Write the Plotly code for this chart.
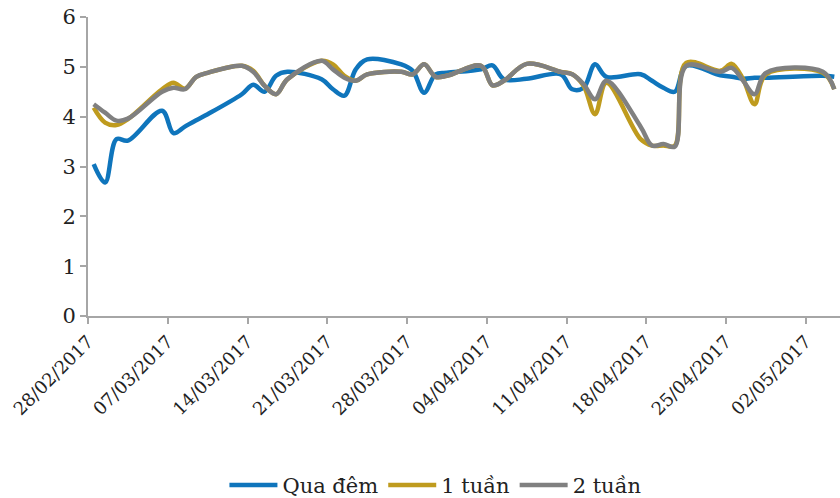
import pandas as pd
import plotly.graph_objects as go

# Trading days (interbank market), VND rates in %/year
dates = [
    "2017-02-28", "2017-03-01", "2017-03-02", "2017-03-03",
    "2017-03-06", "2017-03-07", "2017-03-08", "2017-03-09", "2017-03-10",
    "2017-03-13", "2017-03-14", "2017-03-15", "2017-03-16", "2017-03-17",
    "2017-03-20", "2017-03-21", "2017-03-22", "2017-03-23", "2017-03-24",
    "2017-03-27", "2017-03-28", "2017-03-29", "2017-03-30", "2017-03-31",
    "2017-04-03", "2017-04-04", "2017-04-05", "2017-04-07",
    "2017-04-10", "2017-04-11", "2017-04-12", "2017-04-13", "2017-04-14",
    "2017-04-17", "2017-04-18", "2017-04-19", "2017-04-20", "2017-04-21",
    "2017-04-24", "2017-04-25", "2017-04-26", "2017-04-27", "2017-04-28",
    "2017-05-03", "2017-05-04",
]

qua_dem = [
    3.05, 2.68, 3.55, 3.52,
    4.12, 3.67, 3.80, 3.93, 4.05,
    4.45, 4.64, 4.50, 4.82, 4.90,
    4.75, 4.55, 4.42, 4.95, 5.15,
    5.05, 4.92, 4.48, 4.85, 4.88,
    4.95, 5.03, 4.75, 4.76,
    4.85, 4.55, 4.58, 5.05, 4.80,
    4.85, 4.72, 4.58, 4.50, 5.02,
    4.83, 4.80, 4.76, 4.78, 4.78,
    4.82, 4.80,
]

mot_tuan = [
    4.18, 3.88, 3.83, 3.95,
    4.55, 4.68, 4.56, 4.80, 4.88,
    5.02, 4.92, 4.62, 4.45, 4.75,
    5.12, 5.05, 4.82, 4.72, 4.85,
    4.90, 4.85, 5.05, 4.80, 4.82,
    5.02, 4.63, 4.72, 5.06,
    4.90, 4.85, 4.62, 4.05, 4.68,
    3.55, 3.42, 3.42, 3.42, 5.08,
    4.92, 5.06, 4.75, 4.25, 4.85,
    4.88, 4.55,
]

hai_tuan = [
    4.25, 4.08, 3.92, 3.96,
    4.50, 4.58, 4.55, 4.80, 4.88,
    5.02, 4.90, 4.62, 4.45, 4.75,
    5.12, 4.95, 4.78, 4.72, 4.85,
    4.90, 4.85, 5.05, 4.80, 4.82,
    5.02, 4.63, 4.72, 5.06,
    4.90, 4.85, 4.65, 4.35, 4.72,
    3.80, 3.42, 3.45, 3.40, 5.02,
    4.90, 4.98, 4.72, 4.45, 4.88,
    4.90, 4.55,
]

tick_dates = ["2017-02-28", "2017-03-07", "2017-03-14", "2017-03-21", "2017-03-28",
              "2017-04-04", "2017-04-11", "2017-04-18", "2017-04-25", "2017-05-02"]
tick_labels = ["28/02/2017", "07/03/2017", "14/03/2017", "21/03/2017", "28/03/2017",
               "04/04/2017", "11/04/2017", "18/04/2017", "25/04/2017", "02/05/2017"]

# each observation sits in the middle of its day on the date axis
x = pd.to_datetime(dates) + pd.Timedelta(hours=12)

series = [
    ("Qua đêm", qua_dem, "#0F75BC"),
    ("1 tuần", mot_tuan, "#BF9B1E"),
    ("2 tuần", hai_tuan, "#808080"),
]

fig = go.Figure()
for name, vals, color in series:
    fig.add_trace(go.Scatter(
        x=x, y=vals, name=name, mode="lines",
        line=dict(color=color, width=4.5, shape="spline", smoothing=1.0),
    ))

font = dict(family="DejaVu Serif", size=21, color="#222222")
xtick_font = dict(family="DejaVu Serif", size=18, color="#222222")

fig.update_layout(
    width=840, height=498,
    margin=dict(l=88, r=0, t=17, b=182, autoexpand=False),
    paper_bgcolor="white", plot_bgcolor="white",
    font=font,
    showlegend=True,
    legend=dict(
        orientation="h", x=0.462, xanchor="center", y=-0.566, yanchor="middle",
        font=font, itemwidth=48, tracegroupgap=0, bgcolor="rgba(0,0,0,0)",
    ),
)

fig.update_xaxes(
    type="date", automargin=False, ticklabeloverflow="allow",
    range=["2017-02-28", "2017-05-05"],
    tickmode="array", tickvals=pd.to_datetime(tick_dates), ticktext=tick_labels,
    tickangle=-45, tickfont=xtick_font,
    showgrid=False, zeroline=False,
    showline=True, linecolor="#A6A6A6", linewidth=2,
    ticks="outside", ticklen=6, tickwidth=2, tickcolor="#A6A6A6",
)

fig.update_yaxes(
    automargin=False,
    range=[0, 6], tickvals=[0, 1, 2, 3, 4, 5, 6], tickfont=font,
    showgrid=False, zeroline=False,
    showline=True, linecolor="#A6A6A6", linewidth=2,
    ticks="outside", ticklen=6, tickwidth=2, tickcolor="#A6A6A6",
)

fig.write_html("out.html")
